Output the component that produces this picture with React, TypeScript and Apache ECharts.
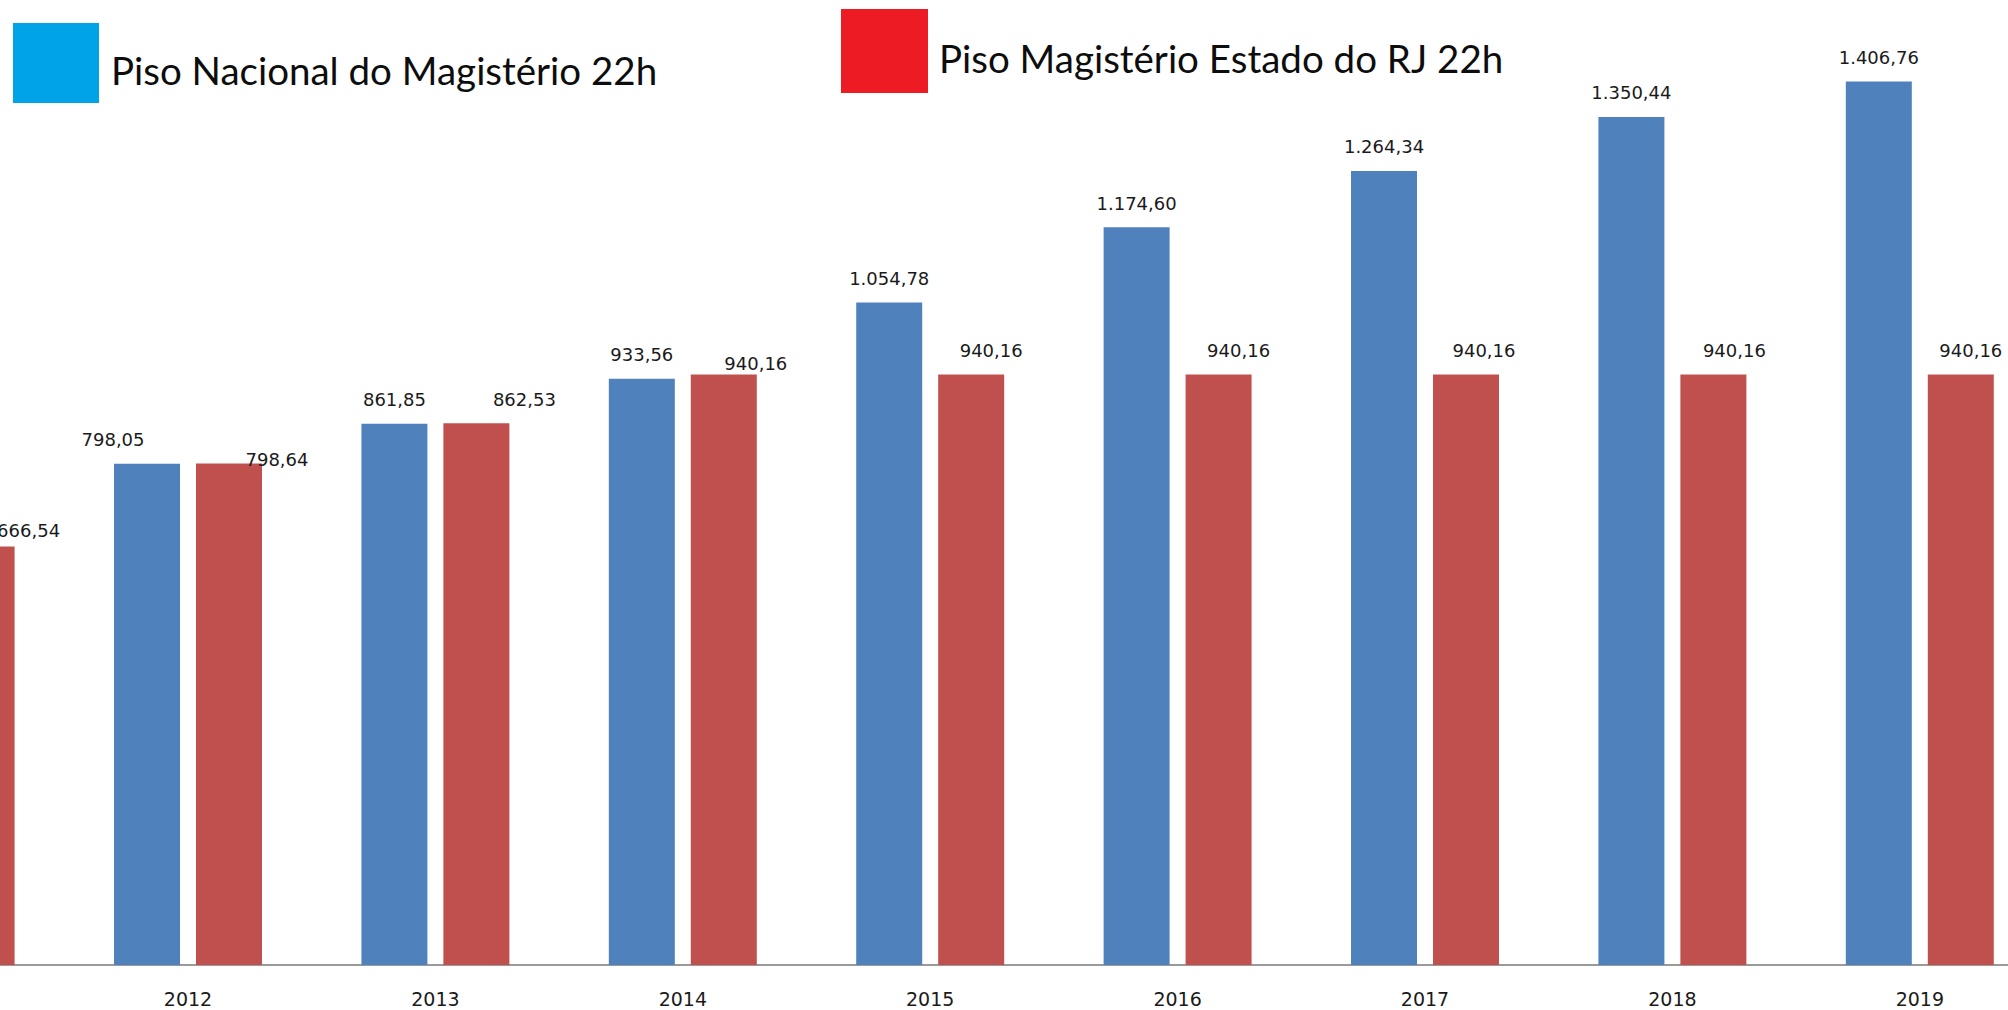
import React, { useEffect, useRef } from "react";
import * as echarts from "echarts";

const categories = ["2011", "2012", "2013", "2014", "2015", "2016", "2017", "2018", "2019"];
const seriesNames = ["Piso Nacional do Magistério 22h", "Piso Magistério Estado do RJ 22h"];
// 2011 national value is outside the visible crop
const pisoNacional: (number | null)[] = [null, 798.05, 861.85, 933.56, 1054.78, 1174.6, 1264.34, 1350.44, 1406.76];
const pisoRJ: number[] = [666.54, 798.64, 862.53, 940.16, 940.16, 940.16, 940.16, 940.16, 940.16];

// label nudges (style only)
const nacionalLabelOffsets = [[0, 0], [-34, 0], [0, 0], [0, 0], [0, 0], [0, 0], [0, 0], [0, 0], [0, 0]];
const rjLabelOffsets = [[47, 8], [48, 20], [48, 0], [32, 13], [20, 0], [20, 0], [18, 0], [21, 0], [10, 0]];

function fmtBR(v: number): string {
  const [i, d] = v.toFixed(2).split(".");
  return i.replace(/\B(?=(\d{3})+(?!\d))/g, ".") + "," + d;
}

function buildData(values: (number | null)[], offsets: number[][]) {
  return values.map((v, idx) => ({
    value: v,
    label: { offset: offsets[idx] },
  }));
}

export default function App() {
  const ref = useRef<HTMLDivElement>(null);
  useEffect(() => {
    if (!ref.current) return;
    const chart = echarts.init(ref.current, null, { renderer: "svg" });
    const labelBase = {
      show: true,
      position: "top",
      distance: 15,
      fontFamily: "DejaVu Sans",
      fontSize: 18,
      color: "#1a1a1a",
      formatter: (p: any) => fmtBR(p.value),
    };
    const legendFont = "38.5px Lato";
    chart.setOption({
      animation: false,
      backgroundColor: "#ffffff",
      graphic: [
        {
          type: "group",
          children: [
            { type: "rect", shape: { x: 13, y: 23, width: 86, height: 80 }, style: { fill: "#00a2e8" } },
            {
              type: "text",
              x: 111,
              y: 70,
              style: { text: seriesNames[0], font: legendFont, fill: "#0d0d0d", verticalAlign: "middle" },
            },
            { type: "rect", shape: { x: 841, y: 9, width: 87, height: 84 }, style: { fill: "#ed1c24" } },
            {
              type: "text",
              x: 939,
              y: 58,
              style: { text: seriesNames[1], font: legendFont, fill: "#0d0d0d", verticalAlign: "middle" },
            },
          ],
        },
      ],
      grid: {
        left: -183.1,
        top: 23,
        width: 2226.6,
        height: 942,
        containLabel: false,
        outerBoundsMode: "none",
      },
      xAxis: {
        type: "category",
        data: categories,
        axisLine: { show: true, lineStyle: { color: "#9a9a9a", width: 2 } },
        axisTick: { show: false },
        axisLabel: {
          interval: 0,
          margin: 24,
          fontFamily: "DejaVu Sans",
          fontSize: 19,
          color: "#1a1a1a",
        },
        splitLine: { show: false },
      },
      yAxis: {
        type: "value",
        min: 0,
        max: 1500,
        show: false,
        splitLine: { show: false },
      },
      series: [
        {
          name: seriesNames[0],
          type: "bar",
          barWidth: 66,
          barGap: "24.2%",
          itemStyle: { color: "#4f81bd" },
          label: labelBase,
          data: buildData(pisoNacional, nacionalLabelOffsets),
        },
        {
          name: seriesNames[1],
          type: "bar",
          barWidth: 66,
          barGap: "24.2%",
          itemStyle: { color: "#c0504d" },
          label: labelBase,
          data: buildData(pisoRJ, rjLabelOffsets),
        },
      ],
    });
    return () => chart.dispose();
  }, []);
  return (
    <div
      ref={ref}
      style={{ position: "absolute", left: 0, top: 0, width: 2008, height: 1010 }}
    />
  );
}
